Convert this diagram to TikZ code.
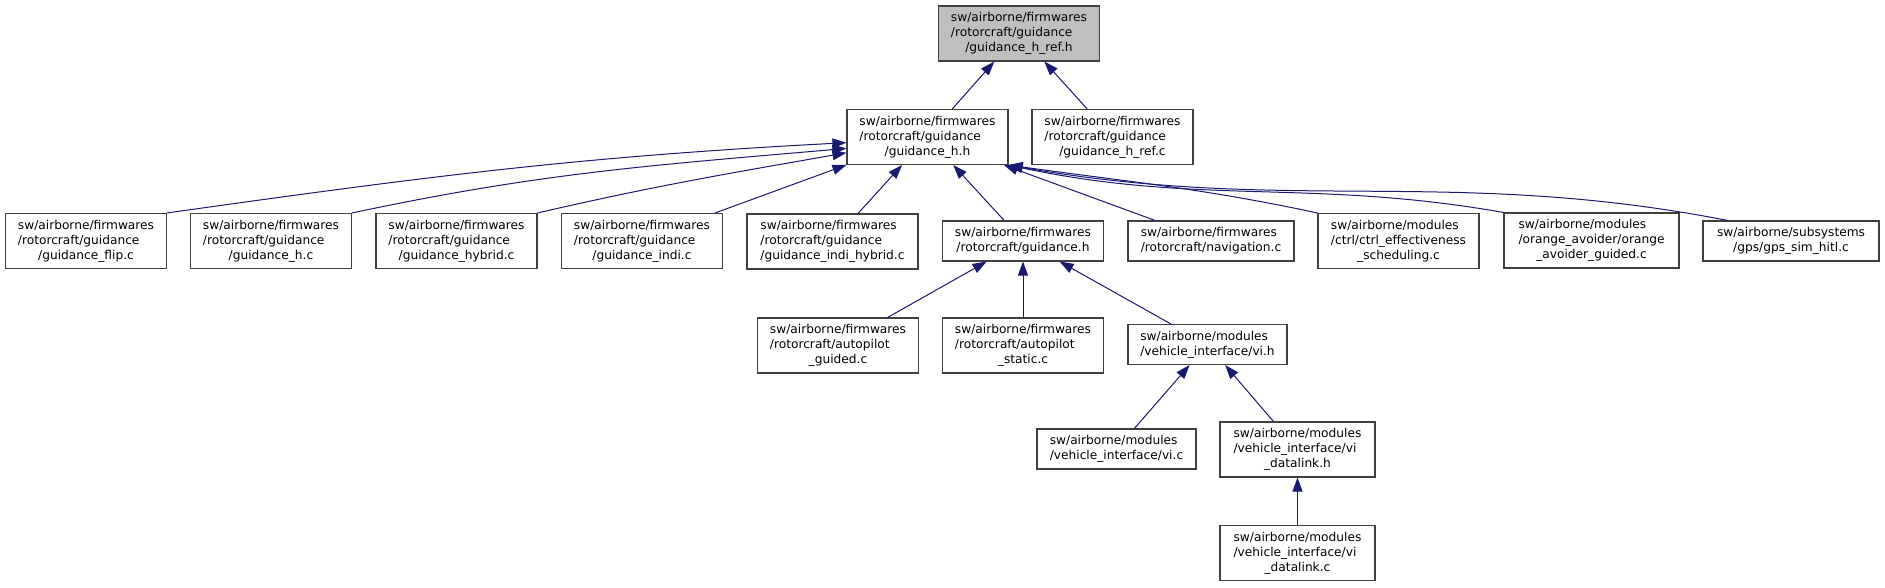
\documentclass[tikz,border=0pt]{standalone}
\usepackage{fontspec}
\setmainfont{DejaVu Sans}
\usetikzlibrary{arrows.meta}
\definecolor{edgeblue}{RGB}{25,25,112}
\definecolor{boxgray}{RGB}{64,64,64}
\definecolor{rootfill}{RGB}{191,191,191}
% first lines left, last line centred
\newcommand{\fpath}[2]{\begin{tabular}{@{}l@{}}#1\\\multicolumn{1}{@{}c@{}}{#2}\end{tabular}}

\begin{document}
\begin{tikzpicture}[x=1pt, y=1pt,
    file/.style={draw=boxgray, line width=1.1pt, fill=white, minimum width=161pt,
                 inner xsep=0pt, inner ysep=5pt, font=\fontsize{12.2}{15}\selectfont},
    dep/.style={draw=edgeblue, line width=1pt, -{Triangle[length=14pt, width=10pt]}}]
    \useasboundingbox (0,0) rectangle (1885,-587);

    % Header
    \node[file, fill=rootfill] (root) at (1019,-33.5) {\fpath{sw/airborne/firmwares\\/rotorcraft/guidance}{/guidance\_h\_ref.h}};

    % Direct includers
    \node[file] (ghh) at (927.5,-137) {\fpath{sw/airborne/firmwares\\/rotorcraft/guidance}{/guidance\_h.h}};
    \node[file] (ghrefc) at (1112.5,-137) {\fpath{sw/airborne/firmwares\\/rotorcraft/guidance}{/guidance\_h\_ref.c}};

    % Includers of guidance_h.h
    \node[file] (flip) at (86,-241) {\fpath{sw/airborne/firmwares\\/rotorcraft/guidance}{/guidance\_flip.c}};
    \node[file] (ghc) at (271,-241) {\fpath{sw/airborne/firmwares\\/rotorcraft/guidance}{/guidance\_h.c}};
    \node[file] (hybrid) at (456.5,-241) {\fpath{sw/airborne/firmwares\\/rotorcraft/guidance}{/guidance\_hybrid.c}};
    \node[file] (indi) at (642,-241) {\fpath{sw/airborne/firmwares\\/rotorcraft/guidance}{/guidance\_indi.c}};
    \node[file, minimum width=171pt] (indihybrid) at (832.5,-241.5) {\fpath{sw/airborne/firmwares\\/rotorcraft/guidance}{/guidance\_indi\_hybrid.c}};
    \node[file] (guidh) at (1023,-241) {\fpath{sw/airborne/firmwares}{/rotorcraft/guidance.h}};
    \node[file, minimum width=166pt] (nav) at (1211,-241) {\fpath{sw/airborne/firmwares}{/rotorcraft/navigation.c}};
    \node[file] (ctrl) at (1398.5,-241) {\fpath{sw/airborne/modules\\/ctrl/ctrl\_effectiveness}{\_scheduling.c}};
    \node[file, minimum width=175pt] (orange) at (1591.5,-240.5) {\fpath{sw/airborne/modules\\/orange\_avoider/orange}{\_avoider\_guided.c}};
    \node[file, minimum width=176pt] (gps) at (1791,-241) {\fpath{sw/airborne/subsystems}{/gps/gps\_sim\_hitl.c}};

    % Includers of guidance.h
    \node[file] (apguided) at (838,-345.5) {\fpath{sw/airborne/firmwares\\/rotorcraft/autopilot}{\_guided.c}};
    \node[file] (apstatic) at (1023,-345.5) {\fpath{sw/airborne/firmwares\\/rotorcraft/autopilot}{\_static.c}};
    \node[file, minimum width=159pt] (vih) at (1207.5,-344.5) {\fpath{sw/airborne/modules}{/vehicle\_interface/vi.h}};

    % Vehicle interface
    \node[file, minimum width=159pt] (vic) at (1116.5,-449) {\fpath{sw/airborne/modules}{/vehicle\_interface/vi.c}};
    \node[file, minimum width=155pt] (vdlh) at (1297.5,-449.5) {\fpath{sw/airborne/modules\\/vehicle\_interface/vi}{\_datalink.h}};
    \node[file, minimum width=155pt] (vdlc) at (1297.5,-553) {\fpath{sw/airborne/modules\\/vehicle\_interface/vi}{\_datalink.c}};

    % Edges
    \draw[dep] (ghh) -- (root);
    \draw[dep] (ghrefc) -- (root);
    \draw[dep] (flip.north east) to[out=8, in=183] (ghh.184);
    \draw[dep] (ghc.north east) to[out=12, in=185] (ghh.188);
    \draw[dep] (hybrid.north east) to[out=13, in=190] (ghh.191);
    \draw[dep] (indi.21) -- (ghh.199);
    \draw[dep] (indihybrid) -- (ghh);
    \draw[dep] (guidh) -- (ghh);
    \draw[dep] (nav) -- (ghh);
    \draw[dep] (ctrl.north west) to[out=168, in=-8] (ghh.south east);
    \draw[dep] (orange.north west) to[out=170, in=-12] (ghh.south east);
    \draw[dep] (gps.162) to[out=169, in=-10] (ghh.south east);
    \draw[dep] (apguided) -- (guidh);
    \draw[dep] (apstatic) -- (guidh);
    \draw[dep] (vih) -- (guidh);
    \draw[dep] (vic) -- (vih);
    \draw[dep] (vdlh) -- (vih);
    \draw[dep] (vdlc) -- (vdlh);
\end{tikzpicture}
\end{document}
